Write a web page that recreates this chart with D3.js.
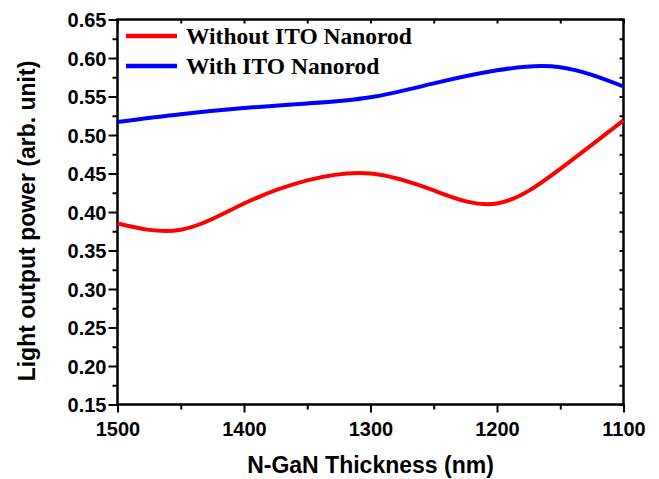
<!DOCTYPE html>
<html>
<head>
<meta charset="utf-8">
<script src="https://cdn.jsdelivr.net/npm/d3@7"></script>
<style>
  body { margin: 0; background: #fff; }
  .tick text { font-family: "Liberation Sans", Arial, sans-serif; font-weight: bold; font-size: 20px; fill: #000; }
  .axis path { display: none; }
  .axis line { stroke: #000; stroke-width: 2; }
</style>
</head>
<body>
<svg id="chart" width="659" height="479"></svg>
<script>
// thickness of the n-GaN layer (nm)
const thickness = [1500, 1450, 1400, 1350, 1300, 1250, 1200, 1150, 1100];
// light output power, arb. unit
const withoutITO = [0.385, 0.377, 0.411, 0.441, 0.450, 0.428, 0.411, 0.456, 0.519];
const withITO    = [0.517, 0.527, 0.535, 0.541, 0.549, 0.567, 0.584, 0.588, 0.563];

const xTicks = [1500, 1400, 1300, 1200, 1100];
const xMinor = [1450, 1350, 1250, 1150];
const yTicks = [0.15, 0.20, 0.25, 0.30, 0.35, 0.40, 0.45, 0.50, 0.55, 0.60, 0.65];
const yMinor = [0.175, 0.225, 0.275, 0.325, 0.375, 0.425, 0.475, 0.525, 0.575, 0.625];

const series = [
  {name: "Without ITO Nanorod", values: withoutITO, color: "#ff0000"},
  {name: "With ITO Nanorod", values: withITO, color: "#0000ff"}
];

const margin = {left: 117.5, right: 623.5, top: 19.5, bottom: 404.5};
const svg = d3.select("#chart");

const x = d3.scaleLinear().domain([1500, 1100]).range([margin.left, margin.right]);
const y = d3.scaleLinear().domain([0.15, 0.65]).range([margin.bottom, margin.top]);

// bottom axis, major + minor ticks
const xAxis = svg.append("g").attr("class", "axis")
  .attr("transform", `translate(0,${margin.bottom})`)
  .call(d3.axisBottom(x).tickValues(xTicks).tickFormat(d3.format("d")).tickSize(8));
xAxis.selectAll(".tick text").attr("dy", null).attr("y", 31);
svg.append("g").attr("class", "axis")
  .attr("transform", `translate(0,${margin.bottom})`)
  .call(d3.axisBottom(x).tickValues(xMinor).tickFormat("").tickSize(5));

// top axis, small inward ticks
svg.append("g").attr("class", "axis")
  .attr("transform", `translate(0,${margin.top})`)
  .call(d3.axisBottom(x).tickValues(xTicks.concat(xMinor)).tickFormat("").tickSize(4));

// left axis
const yAxis = svg.append("g").attr("class", "axis")
  .attr("transform", `translate(${margin.left},0)`)
  .call(d3.axisLeft(y).tickValues(yTicks).tickFormat(d3.format(".2f")).tickSize(9).tickPadding(2));
yAxis.selectAll(".tick text").attr("dy", "0.36em");
svg.append("g").attr("class", "axis")
  .attr("transform", `translate(${margin.left},0)`)
  .call(d3.axisLeft(y).tickValues(yMinor).tickFormat("").tickSize(5));

// right axis, inward ticks
svg.append("g").attr("class", "axis")
  .attr("transform", `translate(${margin.right},0)`)
  .call(d3.axisLeft(y).tickValues(yTicks.concat(yMinor)).tickFormat("").tickSize(4));

// frame
svg.append("rect")
  .attr("x", margin.left).attr("y", margin.top)
  .attr("width", margin.right - margin.left).attr("height", margin.bottom - margin.top)
  .attr("fill", "none").attr("stroke", "#000").attr("stroke-width", 2.5);

// smooth curves through the points
const line = d3.line()
  .x((d, i) => x(thickness[i]))
  .y(d => y(d))
  .curve(d3.curveNatural);

svg.selectAll(".series")
  .data(series)
  .join("path")
    .attr("class", "series")
    .attr("d", d => line(d.values))
    .attr("fill", "none")
    .attr("stroke", d => d.color)
    .attr("stroke-width", 4);

// legend
const legend = svg.append("g");
series.forEach((s, i) => {
  const ly = 36 + i * 30;
  legend.append("line")
    .attr("x1", 126).attr("x2", 177).attr("y1", ly).attr("y2", ly)
    .attr("stroke", s.color).attr("stroke-width", 4.5);
  legend.append("text")
    .attr("x", 186).attr("y", ly + 7.5)
    .attr("font-family", "'Liberation Serif', 'Times New Roman', serif")
    .attr("font-weight", "bold").attr("font-size", "23.5px")
    .text(s.name);
});

// axis titles
svg.append("text")
  .attr("x", (margin.left + margin.right) / 2).attr("y", 473)
  .attr("text-anchor", "middle")
  .attr("font-family", "'Liberation Sans', Arial, sans-serif")
  .attr("font-weight", "bold").attr("font-size", "23px")
  .text("N-GaN Thickness (nm)");

svg.append("text")
  .attr("transform", "translate(34.5,221) rotate(-90)")
  .attr("text-anchor", "middle")
  .attr("font-family", "'Liberation Sans', Arial, sans-serif")
  .attr("font-weight", "bold").attr("font-size", "23px")
  .text("Light output power (arb. unit)");
</script>
</body>
</html>
